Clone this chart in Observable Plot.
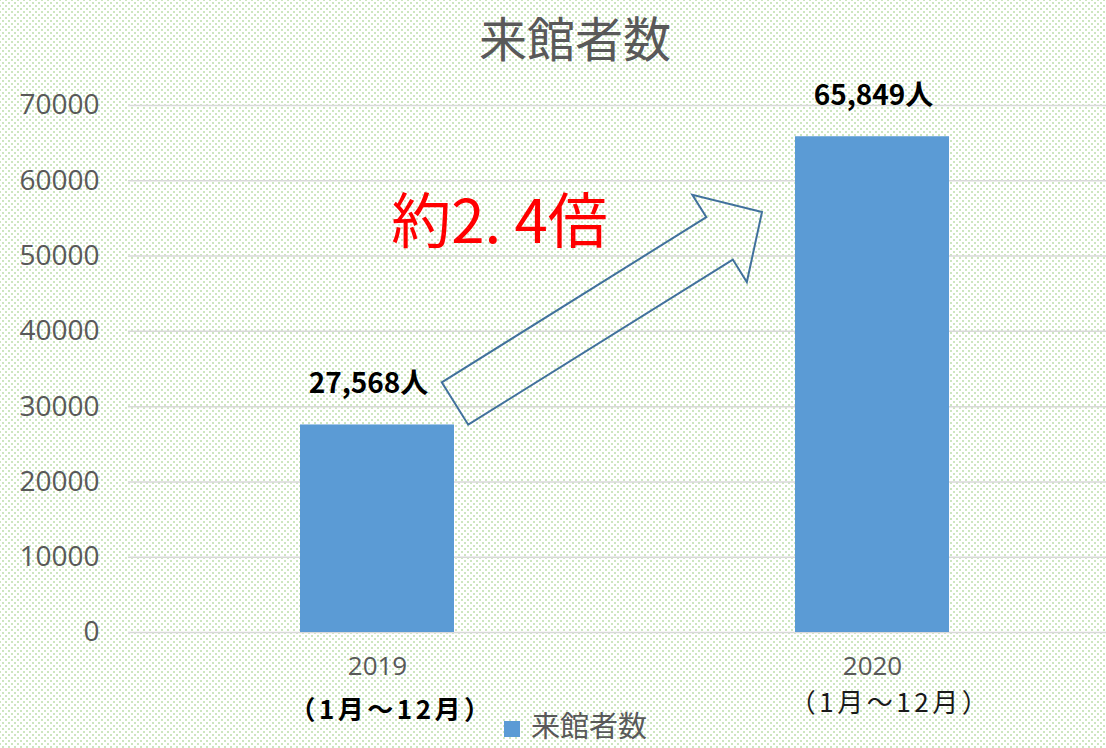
<!DOCTYPE html>
<html>
<head>
<meta charset="utf-8">
<script src="https://cdn.jsdelivr.net/npm/d3@7"></script>
<script src="https://cdn.jsdelivr.net/npm/@observablehq/plot@0.6"></script>
<style>
  html, body { margin: 0; padding: 0; }
  body {
    width: 1106px; height: 748px; overflow: hidden;
    background-color: #ffffff;
    background-image:
      radial-gradient(circle, #cde6c0 0.9px, transparent 1.4px),
      radial-gradient(circle, #cde6c0 0.9px, transparent 1.4px);
    background-size: 6px 6px;
    background-position: 0 0, 3px 3px;
  }
  #wrap { position: relative; width: 1106px; height: 748px; }
  #title {
    position: absolute; left: 575px; top: 11px; transform: translateX(-50%);
    font-family: "Noto Sans CJK JP", sans-serif; font-size: 48px; line-height: 50px;
    color: #595959; white-space: nowrap;
  }
  #chart { position: absolute; left: 0; top: 0; }
  #legend {
    position: absolute; left: 504px; top: 709px; white-space: nowrap;
    font-family: "Noto Sans CJK JP", sans-serif; font-size: 29px; line-height: 30px; color: #595959;
  }
  #legend .sw { display: inline-block; width: 16px; height: 16px; background: #5b9bd5; margin-right: 11px; vertical-align: 0px; }
</style>
</head>
<body>
<div id="wrap">
  <div id="title"></div>
  <div id="chart"></div>
  <div id="legend"></div>
</div>
<script>
// ---- data ----
const titleText = "来館者数";
const seriesName = "来館者数";
const categories = ["2019", "2020"];
const visitors = [27568, 65849];
const valueLabels = ["27,568人", "65,849人"];
const periodLabels = ["（1月～12月）", "（1月～12月）"];
const yTicks = [0, 10000, 20000, 30000, 40000, 50000, 60000, 70000];
const ratioLabel = "約2. 4倍";
const ratioAnchor = {x: "2019", y: 54300};
const arrowFrom = {x: "2019", y: 30350};
const arrowTo = {x: "2020", y: 55800};

const data = categories.map((c, i) => ({year: c, value: visitors[i], label: valueLabels[i], period: periodLabels[i]}));

document.getElementById("title").textContent = titleText;
document.getElementById("legend").innerHTML = '<span class="sw"></span>' + seriesName;

const latin = '"Open Sans", "Noto Sans CJK JP", sans-serif';
const cjk = '"Noto Sans CJK JP", sans-serif';
const first = data.filter((d, i) => i === 0);
const second = data.filter((d, i) => i === 1);

const plot = Plot.plot({
  width: 1106,
  height: 700,
  marginLeft: 128,
  marginRight: 0,
  marginTop: 105,
  marginBottom: 68,
  style: {background: "transparent", overflow: "visible", fontFamily: latin},
  x: {domain: categories, range: [128, 1121], paddingInner: 0.688, paddingOuter: 0.346, axis: null},
  y: {domain: [0, 70000], axis: null},
  marks: [
    Plot.gridY(yTicks, {stroke: "#d9d9d9", strokeOpacity: 1, strokeWidth: 1.5}),
    Plot.axisY(yTicks, {tickSize: 0, tickPadding: 29, fontSize: 28, fill: "#595959", tickFormat: d => String(d), fontFamily: latin, label: null}),
    Plot.barY(data, {x: "year", y: "value", fill: "#5b9bd5"}),
    Plot.text(first, {x: "year", y: "value", text: "label", dy: -41, dx: -9, fontSize: 28, fontWeight: "bold", fill: "#000", fontFamily: cjk}),
    Plot.text(second, {x: "year", y: "value", text: "label", dy: -41, dx: 1, fontSize: 28, fontWeight: "bold", fill: "#000", fontFamily: cjk}),
    Plot.text(data, {x: "year", text: "year", frameAnchor: "bottom", dy: 42, fontSize: 26, fill: "#595959", fontFamily: latin}),
    Plot.text(first, {x: "year", text: "period", frameAnchor: "bottom", dy: 86, dx: 14, fontSize: 26, fontWeight: "bold", fill: "#000", fontFamily: cjk}),
    Plot.text(second, {x: "year", text: "period", frameAnchor: "bottom", dy: 79, dx: 18, fontSize: 26, fill: "#1a1a1a", fontFamily: cjk}),
    Plot.text([ratioLabel], {x: () => ratioAnchor.x, y: () => ratioAnchor.y, text: d => d, dx: 122, fontSize: 60, fill: "#ff0000", fontFamily: cjk})
  ]
});
document.getElementById("chart").appendChild(plot);

// widen the period labels to match the reference spacing
d3.select(plot).selectAll("text")
  .filter(function() { return periodLabels.includes(this.textContent); })
  .attr("letter-spacing", "3.5px");

// hollow block arrow positioned through the plot's own scales
const xs = plot.scale("x"), ys = plot.scale("y");
const bw = xs.bandwidth;
const x0 = xs.apply(arrowFrom.x) + bw + 1, y0 = ys.apply(arrowFrom.y);
const x1 = xs.apply(arrowTo.x) - 33, y1 = ys.apply(arrowTo.y);
const ddx = x1 - x0, ddy = y1 - y0, len = Math.hypot(ddx, ddy);
const ux = ddx / len, uy = ddy / len, nx = -uy, ny = ux;
const shaftW = 50, headW = 103, headL = 50;
const bx = x1 - ux * headL, by = y1 - uy * headL;
const pts = [
  [x0 - nx * shaftW / 2, y0 - ny * shaftW / 2],
  [bx - nx * shaftW / 2, by - ny * shaftW / 2],
  [bx - nx * headW / 2, by - ny * headW / 2],
  [x1, y1],
  [bx + nx * headW / 2, by + ny * headW / 2],
  [bx + nx * shaftW / 2, by + ny * shaftW / 2],
  [x0 + nx * shaftW / 2, y0 + ny * shaftW / 2]
];
d3.select(plot).append("polygon")
  .attr("points", pts.map(p => p.join(",")).join(" "))
  .attr("fill", "none")
  .attr("stroke", "#41719c")
  .attr("stroke-width", 2)
  .attr("stroke-linejoin", "miter");
</script>
</body>
</html>
